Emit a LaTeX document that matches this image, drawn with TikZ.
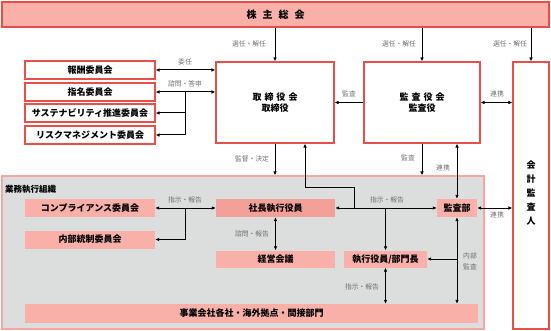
\documentclass[tikz,border=0pt]{standalone}
\usepackage{fontspec}
\setmainfont{Noto Sans CJK JP}
\usetikzlibrary{arrows.meta,calc}
\definecolor{redline}{HTML}{E94E48}
\definecolor{pinkfill}{HTML}{F8B0A8}
\definecolor{pinkdark}{HTML}{F3A098}
\definecolor{grayfill}{HTML}{DCDDDD}
\definecolor{grayline}{HTML}{F4A79F}
\definecolor{labelgray}{HTML}{707070}
\begin{document}
\begin{tikzpicture}[x=1pt,y=-1pt,
  redbox/.style={draw=redline,line width=1.2pt,fill=white,inner sep=0pt,
    font=\bfseries\fontsize{9}{11}\selectfont,align=center},
  topbox/.style={draw=redline,line width=1.5pt,fill=pinkfill,inner sep=0pt,
    font=\bfseries\fontsize{10}{12}\selectfont},
  pbox/.style={fill=pinkfill,inner sep=0pt,font=\bfseries\fontsize{9}{11}\selectfont},
  regionbox/.style={draw=grayline,line width=1.2pt,fill=grayfill,inner sep=0pt},
  lbl/.style={font=\fontsize{6.8}{8}\selectfont,text=labelgray,inner sep=0pt,align=center},
  arr/.style={-{Latex[length=4pt,width=3.6pt]},line width=1pt},
  darr/.style={{Latex[length=4pt,width=3.6pt]}-{Latex[length=4pt,width=3.6pt]},line width=1pt},
  ln/.style={line width=1pt}]
\useasboundingbox (0,0) rectangle (551,331);

% top
\node[topbox,minimum width=547pt,minimum height=25pt] (top) at (275.5,14.5)
  {株\kern6pt 主\kern6pt 総\kern6pt 会};

% committees
\node[redbox,minimum width=130pt,minimum height=18pt] (c1) at (90,70) {報酬委員会};
\node[redbox,minimum width=130pt,minimum height=18pt] (c2) at (90,92) {指名委員会};
\node[redbox,minimum width=130pt,minimum height=18pt] (c3) at (90,113) {サステナビリティ推進委員会};
\node[redbox,minimum width=130pt,minimum height=18pt] (c4) at (90,135) {リスクマネジメント委員会};

% boards
\node[redbox,minimum width=118pt,minimum height=81pt] (tori) at (275,102.5)
  {取\kern3pt 締\kern3pt 役\kern3pt 会\\取締役};
\node[redbox,minimum width=116pt,minimum height=81pt] (kansa) at (422,102.5)
  {監\kern3pt 査\kern3pt 役\kern3pt 会\\監査役};
\node[redbox,minimum width=36pt,minimum height=267pt] (kaikei) at (531,195.5) {};
\node[font=\bfseries\fontsize{9}{14}\selectfont,align=center,inner sep=0pt] (kaikeitxt) at (531,193)
  {会\\計\\監\\査\\人};

% execution region
\node[regionbox,minimum width=482pt,minimum height=153pt] (gyomu) at (243,252.5) {};
\node[font=\bfseries\fontsize{8.5}{10}\selectfont,anchor=west,inner sep=0pt] (gyomulbl) at (5,189) {業務執行組織};

\node[pbox,minimum width=130pt,minimum height=18pt] (comp) at (90,208) {コンプライアンス委員会};
\node[pbox,minimum width=130pt,minimum height=18pt] (naibu) at (90,239.5) {内部統制委員会};
\node[pbox,fill=pinkdark,minimum width=119pt,minimum height=18pt] (shacho) at (275.5,208) {社長執行役員};
\node[pbox,minimum width=119pt,minimum height=17pt] (keiei) at (275.5,259) {経営会議};
\node[pbox,minimum width=83pt,minimum height=17pt] (shikko) at (385.5,259) {執行役員/部門長};
\node[pbox,minimum width=40pt,minimum height=18pt] (kansabu) at (457,208) {監査部};
\node[pbox,minimum width=453pt,minimum height=19pt] (jigyo) at (251.5,313.5) {事業会社各社・海外拠点・間接部門};

% top arrows
\draw[arr] (top.south -| tori.north) -- (tori.north);
\draw[arr] (top.south -| kansa.north) -- (kansa.north);
\draw[arr] (top.south -| kaikei.north) -- (kaikei.north);
\node[lbl] (l1) at (249,44) {選任・解任};
\node[lbl] (l2) at (399,44) {選任・解任};
\node[lbl] (l3) at (510,44) {選任・解任};

% committee arrows
\draw[darr] (c1.east) -- (c1.east -| tori.west);
\node[lbl] (l4) at (185,62) {委任};
\draw[darr] (c2.east) -- (c2.east -| tori.west);
\node[lbl] (l5) at (185,84) {諮問・答申};
\coordinate (j1) at (185,92);
\draw[ln] (j1) -- (j1 |- c4.east);
\draw[arr] (j1 |- c3.east) -- (c3.east);
\draw[arr] (j1 |- c4.east) -- (c4.east);

% board arrows
\draw[arr] (kansa.west) -- (tori.east);
\node[lbl] (l6) at (349,94) {監査};
\draw[darr] (kansa.east) -- (kansa.east -| kaikei.west);
\node[lbl] (l7) at (497,94) {連携};

\draw[arr] (tori.south) -- (tori.south |- gyomu.north);
\node[lbl] (l8) at (252,159) {監督・決定};
\coordinate (j2) at (354,208);
\coordinate (up) at (305,188);
\draw[arr] (j2) -- (j2 |- up) -- (up) -- (up |- tori.south);

\draw[arr] (kansa.south) -- (kansa.south |- gyomu.north);
\node[lbl] (l9) at (408,158) {監査};
\draw[darr] (kansabu.north |- kansa.south) -- (kansabu.north);
\node[lbl] (l10) at (443,168) {連携};

% execution arrows
\draw[darr] (comp.east) -- (shacho.west);
\node[lbl] (l11) at (185,200) {指示・報告};
\coordinate (j3) at (185,208);
\draw[arr] (j3) |- (naibu.east);
\draw[darr] (shacho.south) -- (keiei.north);
\node[lbl] (l12) at (252,234) {諮問・報告};

\draw[darr] (shacho.east) -- (kansabu.west);
\node[lbl] (l13) at (387,200) {指示・報告};
\draw[arr] (shikko.north |- shacho.east) -- (shikko.north);

\draw[darr] (kansabu.east) -- (kansabu.east -| kaikei.west);
\node[lbl] (l14) at (497,215) {連携};

\draw[darr] (kansabu.south) -- (kansabu.south |- jigyo.north);
\draw[arr] (kansabu.south |- shikko.east) -- (shikko.east);
\node[lbl,font=\fontsize{6.8}{11}\selectfont] (l15) at (470,261) {内部\\監査};

\draw[darr] (shikko.south) -- (shikko.south |- jigyo.north);
\node[lbl] (l16) at (362,287) {指示・報告};
\end{tikzpicture}
\end{document}
